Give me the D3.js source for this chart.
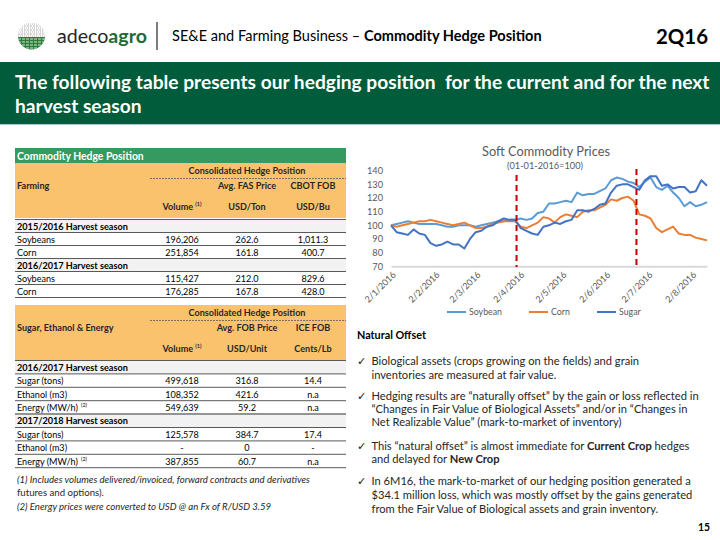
<!DOCTYPE html>
<html><head><meta charset="utf-8">
<script src="https://cdn.jsdelivr.net/npm/d3@7"></script>
<style>
body{margin:0;background:#fff;}
svg{display:block;}
</style></head><body>
<svg id="s" width="720" height="540"></svg>
<script>
// ---------------- DATA ----------------
const dates = ["2016-01-02","2016-01-06","2016-01-10","2016-01-14","2016-01-18","2016-01-22","2016-01-26","2016-01-30",
"2016-02-03","2016-02-07","2016-02-11","2016-02-15","2016-02-19","2016-02-23","2016-02-27",
"2016-03-02","2016-03-06","2016-03-10","2016-03-14","2016-03-18","2016-03-22","2016-03-26","2016-03-30",
"2016-04-03","2016-04-07","2016-04-11","2016-04-15","2016-04-19","2016-04-23","2016-04-27",
"2016-05-01","2016-05-05","2016-05-09","2016-05-13","2016-05-17","2016-05-21","2016-05-25","2016-05-29",
"2016-06-02","2016-06-06","2016-06-10","2016-06-14","2016-06-18","2016-06-22","2016-06-26","2016-06-30",
"2016-07-04","2016-07-08","2016-07-12","2016-07-16","2016-07-20","2016-07-24","2016-07-28",
"2016-08-01","2016-08-05","2016-08-09","2016-08-13"];
const soybean = [100,101,102,103,102,101,101,101,101,100,99,99,100,100,100,99,100,101,102,103,103,104,104,
105,104,105,109,110,116,116,117,118,117,124,122,123,123,125,127,133,135,134,132,131,128,132,
135,128,126,129,124,120,114,117,114,115,117];
const corn = [100,99,100,101,102,103,103,104,103,102,101,100,101,102,100,98,98,99,101,102,103,103,103,
99,98,100,102,106,105,102,106,108,107,106,110,111,111,113,115,119,118,120,121,118,108,107,
105,98,95,97,99,94,93,93,91,90,89];
const sugar = [100,95,94,93,97,94,93,87,85,86,88,86,86,83,90,95,96,99,100,103,105,104,104,
98,96,94,93,99,100,102,101,103,104,111,111,110,112,115,116,124,129,130,130,128,126,133,
136,136,129,130,127,128,128,124,125,133,129];
const seriesNames = ["Soybean","Corn","Sugar"];
const seriesColors = ["#5B9BD5","#ED7D31","#4472C4"];
const markerDates = ["2016-03-31","2016-06-24"];
const xTickDates = ["2016-01-02","2016-02-02","2016-03-02","2016-04-02","2016-05-02","2016-06-02","2016-07-02","2016-08-02"];
const yTicks = [70,80,90,100,110,120,130,140];
const chartTitle = "Soft Commodity Prices";
const chartSubtitle = "(01-01-2016=100)";

const farmLabels = ["2015/2016 Harvest season","Soybeans","Corn","2016/2017 Harvest season","Soybeans","Corn"];
const farmVolume = ["","196,206","251,854","","115,427","176,285"];
const farmPrice  = ["","262.6","161.8","","212.0","167.8"];
const farmCbot   = ["","1,011.3","400.7","","829.6","428.0"];
const farmNotes  = ["","","","","",""];
const farmHead = {title:"Farming", c2a:"Avg. FAS Price", c3a:"CBOT FOB", c2b:"USD/Ton", c3b:"USD/Bu"};

const sugarLabels = ["2016/2017 Harvest season","Sugar (tons)","Ethanol (m3)","Energy (MW/h)","2017/2018 Harvest season","Sugar (tons)","Ethanol (m3)","Energy (MW/h)"];
const sugarVolume = ["","499,618","108,352","549,639","","125,578","-","387,855"];
const sugarPrice  = ["","316.8","421.6","59.2","","384.7","0","60.7"];
const sugarIce    = ["","14.4","n.a","n.a","","17.4","-","n.a"];
const sugarNotes  = ["","","","(2)","","","","(2)"];
const sugarHead = {title:"Sugar, Ethanol & Energy", c2a:"Avg. FOB Price", c3a:"ICE FOB", c2b:"USD/Unit", c3b:"Cents/Lb"};

const bullets = [
 [[["Biological assets (crops growing on the fields) and grain",0]],[["inventories are measured at fair value.",0]]],
 [[["Hedging results are “naturally offset” by the gain or loss reflected in",0]],[["“Changes in Fair Value of Biological Assets” and/or in “Changes in",0]],[["Net Realizable Value” (mark-to-market of inventory)",0]]],
 [[["This “natural offset” is almost immediate for ",0],["Current Crop",1],[" hedges",0]],[["and delayed for ",0],["New Crop",1]]],
 [[["In 6M16, the mark-to-market of our hedging position generated a",0]],[["$34.1 million loss, which was mostly offset by the gains generated",0]],[["from the Fair Value of Biological assets and grain inventory.",0]]]
];
const footnotes = [["(1) Includes volumes delivered/invoiced, forward contracts and derivatives",1],["futures and options).",0],["(2) Energy prices were converted to USD @ an Fx of R/USD 3.59",1]];

// ---------------- HELPERS ----------------
const FONT = "Lato, 'Noto Sans', sans-serif";
const svg = d3.select("#s").attr("font-family", FONT);
function fitSize(parts, target, style){
  const t = svg.append("text").attr("font-size",20).attr("font-style",style||"normal");
  parts.forEach(p=>t.append("tspan").attr("font-weight",p[1]?"bold":"normal").text(p[0]));
  const w = t.node().getComputedTextLength(); t.remove();
  return 20*target/w;
}
function richText(g, parts, x, y, size, color, anchor, style){
  const t = g.append("text").attr("x",x).attr("y",y).attr("font-size",size).attr("fill",color)
    .attr("text-anchor",anchor||"start").attr("font-style",style||"normal");
  parts.forEach(p=>t.append("tspan").attr("font-weight",p[1]?"bold":"normal").text(p[0]));
  return t;
}

// ---------------- HEADER ----------------
const hdr = svg.append("g");
const defs = svg.append("defs");
defs.append("clipPath").attr("id","lc").append("circle").attr("cx",31.5).attr("cy",36).attr("r",13.5);
const logo = hdr.append("g").attr("clip-path","url(#lc)");
logo.append("rect").attr("x",17).attr("y",22).attr("width",30).attr("height",28).attr("fill","#fff");
d3.range(0,7).forEach(i=>{
  logo.append("line").attr("x1",18).attr("x2",46).attr("y1",24+i*2).attr("y2",24+i*2)
    .attr("stroke","#9a9a9a").attr("stroke-width",0.8).attr("stroke-dasharray", i%2? "2,1":"1,1");
});
logo.append("rect").attr("x",17).attr("y",37).attr("width",30).attr("height",13).attr("fill","#2f7d3a");
d3.range(0,4).forEach(i=>{
  logo.append("line").attr("x1",18).attr("x2",46).attr("y1",39+i*3).attr("y2",39+i*3)
    .attr("stroke","#fff").attr("stroke-width",0.8).attr("stroke-dasharray","3,1");
});
const aSize = fitSize([["adeco",0],["agro",1]], 90);
const at = hdr.append("text").attr("x",57).attr("y",42.5).attr("font-size",aSize);
at.append("tspan").attr("fill","#262626").text("adeco");
at.append("tspan").attr("fill","#1e6b33").attr("font-weight","bold").text("agro");
hdr.append("line").attr("x1",157).attr("x2",157).attr("y1",22).attr("y2",50).attr("stroke","#262626").attr("stroke-width",1.2);
const hParts = [["SE&E and Farming Business – ",0],["Commodity Hedge Position",1]];
richText(hdr, hParts, 172, 41, fitSize(hParts, 370), "#000");
richText(hdr, [["2Q16",1]], 708, 43.5, fitSize([["2Q16",1]],52), "#000", "end");

// banner
svg.append("rect").attr("x",0).attr("y",62).attr("width",720).attr("height",62).attr("fill","#005c3a");
svg.append("line").attr("x1",0).attr("x2",720).attr("y1",124.5).attr("y2",124.5).attr("stroke","#a9c1d9").attr("stroke-width",1);
const bnLines = ["The following table presents our hedging position  for the current and for the next","harvest season"];
const bnSize = fitSize([[bnLines[0],1]], 690);
bnLines.forEach((l,i)=>richText(svg,[[l,1]],15,89+i*24,bnSize,"#fff").style("white-space","pre"));

// ---------------- TABLES ----------------
const tx0 = 15, tx1 = 346, colC = [182, 247, 313];
const tSize = fitSize([["Soybeans",0]], 38);
const tbSize = fitSize([["Consolidated Hedge Position",1]], 117);
const seasonSize = fitSize([["2015/2016 Harvest season",1]], 111);
const tg = svg.append("g");
tg.append("rect").attr("x",tx0).attr("y",148).attr("width",tx1-tx0).attr("height",15.5).attr("fill","#349a5f");
richText(tg,[["Commodity Hedge Position",1]],17,159.5,fitSize([["Commodity Hedge Position",1]],127),"#fff");

function drawTable(top, head, labels, vol, price, c3, notes, rowTop, rowH){
  const g = svg.append("g");
  g.append("rect").attr("x",tx0).attr("y",top).attr("width",tx1-tx0).attr("height",55).attr("fill","#fbc26e");
  richText(g,[["Consolidated Hedge Position",1]],247,top+11,tbSize,"#262626","middle");
  g.append("line").attr("x1",150).attr("x2",tx1).attr("y1",top+15.5).attr("y2",top+15.5)
    .attr("stroke","#595959").attr("stroke-width",0.8).attr("stroke-dasharray","2,1");
  richText(g,[[head.title,1]],17,top+26,tbSize,"#262626");
  richText(g,[[head.c2a,1]],colC[1],top+26,tbSize,"#262626","middle");
  richText(g,[[head.c3a,1]],colC[2],top+26,tbSize,"#262626","middle");
  const vt = richText(g,[["Volume ",1]],colC[0],top+47,tbSize,"#262626","middle");
  vt.append("tspan").attr("font-size",tbSize*0.6).attr("font-weight","bold").attr("dy",-4).text("(1)");
  richText(g,[[head.c2b,1]],colC[1],top+47,tbSize,"#262626","middle");
  richText(g,[[head.c3b,1]],colC[2],top+47,tbSize,"#262626","middle");
  labels.forEach((lab,i)=>{
    const y0 = rowTop + i*rowH;
    const season = vol[i]==="" && price[i]==="";
    if(season){
      g.append("rect").attr("x",tx0).attr("y",y0).attr("width",tx1-tx0).attr("height",rowH).attr("fill","#f2f2f2");
      g.append("line").attr("x1",tx0).attr("x2",tx1).attr("y1",y0).attr("y2",y0).attr("stroke","#595959").attr("stroke-width",1);
      richText(g,[[lab,1]],17,y0+rowH/2+3.6,seasonSize,"#000");
    } else {
      const lt = richText(g,[[lab,0]],17,y0+rowH/2+3.6,tSize,"#000");
      if(notes[i]) lt.append("tspan").attr("font-size",tSize*0.6).attr("dx",3).attr("dy",-4).text(notes[i]);
      [vol[i],price[i],c3[i]].forEach((v,k)=>richText(g,[[v,0]],colC[k],y0+rowH/2+3.6,tSize,"#000","middle"));
    }
    g.append("line").attr("x1",tx0).attr("x2",tx1).attr("y1",y0+rowH).attr("y2",y0+rowH).attr("stroke","#595959").attr("stroke-width",1);
  });
}
drawTable(163, farmHead, farmLabels, farmVolume, farmPrice, farmCbot, farmNotes, 219.5, 13);
drawTable(305, sugarHead, sugarLabels, sugarVolume, sugarPrice, sugarIce, sugarNotes, 360.5, 13.4);

const fnSize = fitSize([[footnotes[0][0],0]], 293, "italic");
footnotes.forEach((f,i)=>richText(svg,[[f[0],0]],17,483+i*13.3,fnSize,"#262626","start",f[1]?"italic":"normal"));

// ---------------- CHART ----------------
const parse = d3.timeParse("%Y-%m-%d");
const x = d3.scaleTime().domain([parse("2016-01-02"), parse("2016-08-13")]).range([391, 707]);
const y = d3.scaleLinear().domain([70,140]).range([266.3,170.7]);
const cg = svg.append("g");
cg.append("text").attr("x",546).attr("y",156).attr("text-anchor","middle").attr("fill","#595959")
  .attr("font-size",fitSize([[chartTitle,0]],128)).text(chartTitle);
cg.append("text").attr("x",545).attr("y",168.5).attr("text-anchor","middle").attr("fill","#595959")
  .attr("font-size",fitSize([[chartSubtitle,0]],76)).text(chartSubtitle);
yTicks.forEach(v=>{
  cg.append("text").attr("x",383).attr("y",y(v)+3.3).attr("text-anchor","end").attr("fill","#595959")
    .attr("font-size",9.2).text(v);
});
const xa = cg.append("g").attr("transform","translate(0,266.3)")
  .call(d3.axisBottom(x).tickValues(xTickDates.map(parse)).tickFormat(d3.timeFormat("%-d/%-m/%Y")).tickSize(0));
xa.select(".domain").attr("stroke","#d9d9d9").attr("stroke-width",2);
xa.selectAll("text").attr("y",0).attr("dy",0).attr("x",0).attr("text-anchor","end")
  .attr("transform","translate(5,9) rotate(-45)").attr("fill","#595959").attr("font-size",9).attr("font-family",FONT);

const series = [soybean, corn, sugar];
const line = d3.line().x((d,i)=>x(parse(dates[i]))).y(d=>y(d));
series.forEach((s,k)=>{
  cg.append("path").attr("d",line(s)).attr("fill","none").attr("stroke",seriesColors[k])
    .attr("stroke-width",2).attr("stroke-linejoin","round");
});
const markerTop = [175, 169];
markerDates.forEach((d,i)=>{
  cg.append("line").attr("x1",x(parse(d))).attr("x2",x(parse(d))).attr("y1",markerTop[i]).attr("y2",267)
    .attr("stroke","#c00000").attr("stroke-width",2).attr("stroke-dasharray","6,4");
});
const legX = [447, 529, 597];
seriesNames.forEach((n,k)=>{
  cg.append("line").attr("x1",legX[k]).attr("x2",legX[k]+19).attr("y1",312).attr("y2",312)
    .attr("stroke",seriesColors[k]).attr("stroke-width",2);
  cg.append("text").attr("x",legX[k]+22).attr("y",315).attr("font-size",8.8).attr("fill","#595959").text(n);
});

// ---------------- TEXT ----------------
const bg = svg.append("g");
richText(bg,[["Natural Offset",1]],357,339,fitSize([["Natural Offset",1]],69),"#000");
const bSize = fitSize(bullets[0][0], 268);
const lineYs = [[365,378.5],[399.5,413,426],[449.5,463],[485,498.5,512.5]];
bullets.forEach((b,i)=>{
  bg.append("text").attr("x",357).attr("y",lineYs[i][0]).attr("font-size",bSize).attr("font-family","'DejaVu Sans'").attr("fill","#262626").text("✓");
  b.forEach((ln,j)=>richText(bg, ln, 371.5, lineYs[i][j], bSize, "#262626"));
});
richText(bg,[["15",1]],710,530.5,fitSize([["15",1]],12),"#000","end");
</script>
</body></html>
